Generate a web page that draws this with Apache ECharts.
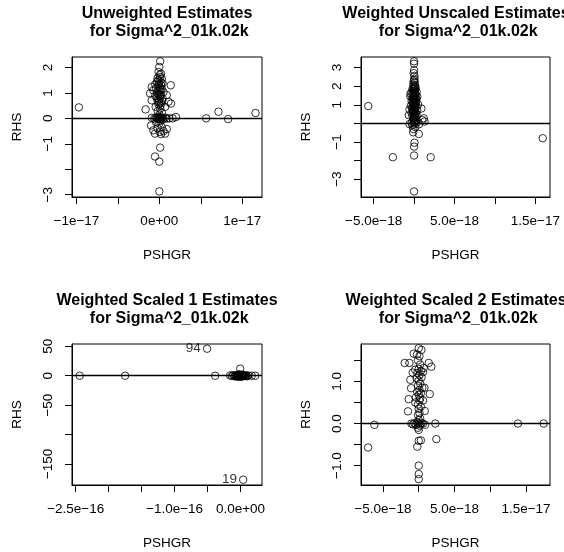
<!DOCTYPE html>
<html>
<head>
<meta charset="utf-8">
<script src="https://cdn.jsdelivr.net/npm/echarts@6/dist/echarts.min.js"></script>
<style>html,body{margin:0;padding:0;background:#fff}#c{width:564px;height:552px}</style>
</head>
<body>
<div id="c"></div>
<script>
// ---------- Panel titles ----------
const titles = [
  "Unweighted Estimates\n for Sigma^2_01k.02k",
  "Weighted Unscaled Estimates\n for Sigma^2_01k.02k",
  "Weighted Scaled 1 Estimates\n for Sigma^2_01k.02k",
  "Weighted Scaled 2 Estimates\n for Sigma^2_01k.02k"
];
const xName = "PSHGR";
const yName = "RHS";

// ---------- Panel 1: Unweighted ----------
const p1X = [-9.7e-18,5.65e-18,7.13e-18,8.3e-18,11.6e-18,
  0.1e-18,0.0,-0.1e-18,0.2e-18,0.1e-18,-0.2e-18,0.3e-18,-0.3e-18,0.0,0.4e-18,
  -0.5e-18,0.2e-18,-0.1e-18,-0.92e-18,1.38e-18,0.1e-18,-0.4e-18,0.3e-18,-0.72e-18,0.0,
  -0.2e-18,0.5e-18,-1.12e-18,-0.1e-18,0.2e-18,0.9e-18,-0.5e-18,0.1e-18,-0.3e-18,0.4e-18,
  0.0,-0.92e-18,-0.2e-18,1.1e-18,1.4e-18,0.2e-18,-0.1e-18,-0.44e-18,0.7e-18,-1.65e-18,
  0.1e-18,-0.2e-18,0.3e-18,0.0,
  -0.9e-18,-0.6e-18,-0.4e-18,-0.2e-18,0.0,0.1e-18,0.2e-18,0.3e-18,0.5e-18,0.7e-18,0.9e-18,1.2e-18,1.6e-18,2.0e-18,-0.1e-18,0.4e-18,
  -1.0e-18,-0.72e-18,-0.52e-18,0.08e-18,0.5e-18,0.7e-18,0.3e-18,-0.2e-18,0.0,-0.4e-18,0.2e-18,0.9e-18,0.1e-18,
  0.1e-18,-0.52e-18,0.0,0.0,
  0.05e-18,-0.15e-18,0.25e-18,-0.05e-18,0.15e-18,-0.25e-18,0.05e-18,0.35e-18,-0.05e-18,0.15e-18,-0.3e-18,0.25e-18,-0.05e-18];
const p1Y = [0.43,0.0,0.26,-0.03,0.21,
  2.24,2.02,1.82,1.75,1.62,1.58,1.55,1.43,1.45,1.37,
  1.33,1.30,1.27,1.23,1.30,1.20,1.18,1.15,1.10,1.08,
  1.05,1.03,0.98,0.95,0.92,0.91,0.88,0.85,0.80,0.78,
  0.74,0.71,0.68,0.65,0.58,0.60,0.55,0.45,0.45,0.35,
  0.38,0.28,0.22,0.15,
  0.02,0.0,0.03,-0.02,0.0,0.04,-0.01,0.02,0.0,0.03,-0.01,0.0,0.0,0.05,0.06,-0.05,
  -0.28,-0.47,-0.6,-0.53,-0.5,-0.6,-0.34,-0.4,-0.2,-0.15,-0.62,-0.42,-0.1,
  -1.15,-1.5,-1.7,-2.87,
  1.7,1.5,1.4,1.35,1.12,0.98,0.9,0.68,0.62,0.5,0.02,0.0,-0.03];
const p1XTicks = [-1e-17,-5e-18,0,5e-18,1e-17];
const p1XLabelVals = [-1e-17,0,1e-17];
const p1XLabels = ["\u22121e\u221217","0e+00","1e\u221217"];
const p1YTicks = [-3,-2,-1,0,1,2];
const p1YLabelVals = [-3,-1,0,1,2];
const p1YLabels = ["\u22123","\u22121","0","1","2"];

// ---------- Panel 2: Weighted Unscaled ----------
const p2X = [-5.66e-18,-2.62e-18,2.05e-18,15.9e-18,0.0,0.0,0.05e-18,0.0,0.58e-18,-0.1e-18,0.9e-18,1.0e-18,1.2e-18,-0.65e-18,-0.57e-18,-0.45e-18,-0.45e-18,
  0.0,0.0,0.0,-0.05e-18,0.05e-18,0.0,0.1e-18,-0.1e-18,0.0,0.2e-18,
  -0.2e-18,0.1e-18,0.3e-18,-0.3e-18,0.0,0.2e-18,-0.1e-18,0.4e-18,0.0,-0.2e-18,
  0.3e-18,0.1e-18,-0.3e-18,0.0,0.2e-18,-0.1e-18,0.5e-18,0.0,-0.4e-18,0.3e-18,
  0.1e-18,-0.2e-18,0.0,0.4e-18,-0.1e-18,0.2e-18,-0.3e-18,0.0,0.3e-18,-0.2e-18,
  0.1e-18,0.0,-0.1e-18,0.2e-18,0.0,-0.57e-18,-0.3e-18,0.0,0.3e-18,0.6e-18,
  1.3e-18,0.15e-18,-0.1e-18,
  0.1e-18,-0.1e-18,0.2e-18,-0.2e-18,0.1e-18,-0.1e-18,0.0,0.1e-18,0.0,-0.1e-18,0.2e-18,0.0,0.1e-18,-0.2e-18,
  0.05e-18,-0.05e-18,0.1e-18,-0.1e-18,0.05e-18,0.15e-18,-0.15e-18,0.05e-18,0.25e-18,-0.05e-18,0.15e-18,-0.25e-18,0.05e-18,-0.15e-18,0.1e-18,-0.05e-18,0.25e-18];
const p2Y = [0.93,-1.82,-1.82,-0.8,-1.73,-1.25,-1.04,-3.66,-0.57,-0.48,0.8,0.18,0.27,0.44,0.75,1.6,1.45,
  3.34,3.21,2.86,2.7,2.55,2.32,2.2,2.1,2.0,1.92,
  1.85,1.78,1.7,1.65,1.6,1.55,1.5,1.45,1.4,1.35,
  1.3,1.25,1.2,1.15,1.1,1.05,1.02,0.98,0.95,0.9,
  0.85,0.8,0.75,0.7,0.65,0.6,0.55,0.5,0.45,0.4,
  0.35,0.3,0.22,0.15,0.1,-0.04,0.02,-0.02,0.03,-0.05,
  0.1,-0.2,-0.3,
  1.95,1.72,1.38,1.12,0.92,0.72,1.85,1.48,1.28,0.88,0.52,0.62,0.05,-0.1,
  2.4,2.25,2.05,1.88,1.75,1.62,1.42,1.33,1.18,1.08,0.97,0.83,0.68,0.58,0.42,0.28,0.2];
const p2XTicks = [-5e-18,0,5e-18,1e-17,1.5e-17];
const p2XLabelVals = [-5e-18,5e-18,1.5e-17];
const p2XLabels = ["\u22125.0e\u221218","5.0e\u221218","1.5e\u221217"];
const p2YTicks = [-3,-2,-1,0,1,2,3];
const p2YLabelVals = [-3,-1,1,2,3];
const p2YLabels = ["\u22123","\u22121","1","2","3"];

// ---------- Panel 3: Weighted Scaled 1 ----------
const p3X = [-2.44e-16,-1.75e-16,-3.85e-17,-5.07e-17,-0.05e-17,0.41e-17,
  -1.57e-17,-1.3e-17,-1.1e-17,-0.9e-17,-0.8e-17,-0.7e-17,-0.6e-17,-0.5e-17,-0.45e-17,-0.4e-17,
  -0.35e-17,-0.3e-17,-0.25e-17,-0.2e-17,-0.15e-17,-0.1e-17,-0.05e-17,0.0,0.05e-17,0.1e-17,
  0.15e-17,0.2e-17,0.25e-17,0.3e-17,0.35e-17,0.4e-17,0.45e-17,0.5e-17,0.6e-17,0.7e-17,
  0.8e-17,0.9e-17,1.0e-17,1.2e-17,1.7e-17,2.24e-17,-0.2e-17,0.1e-17,0.3e-17,-0.5e-17];
const p3Y = [0,0,0,46,12,-177,
  0.5,-0.5,1,-1,0.3,-0.2,0.8,-0.6,0.1,1.5,
  -1.2,0.2,-0.3,0.6,-0.8,0.0,1.2,-0.4,0.3,-1.0,
  0.8,-0.2,0.4,-0.6,1.0,0.1,-0.3,0.5,-0.1,0.7,
  -0.5,0.2,-0.8,0.3,0.0,0.0,2.5,-2.0,1.8,-1.8];
const p3PointLabels = {3:"94", 5:"19"};
const p3XTicks = [-2.5e-16,-2e-16,-1.5e-16,-1e-16,-5e-17,0];
const p3XLabelVals = [-2.5e-16,-1e-16,0];
const p3XLabels = ["\u22122.5e\u221216","\u22121.0e\u221216","0.0e+00"];
const p3YTicks = [-150,-100,-50,0,50];
const p3YLabelVals = [-150,-50,0,50];
const p3YLabels = ["\u2212150","\u221250","0","50"];

// ---------- Panel 4: Weighted Scaled 2 ----------
const p4X = [-7.08e-18,-6.2e-18,2.32e-18,2.46e-18,13.87e-18,17.46e-18,0.0,0.0,0.0,-0.2e-18,0.0,0.3e-18,
  0.0,0.37e-18,-0.24e-18,-0.7e-18,-1.96e-18,-1.3e-18,1.4e-18,1.76e-18,0.7e-18,-0.84e-18,-1.17e-18,-1.07e-18,1.54e-18,-1.4e-18,-0.47e-18,-1.5e-18,0.84e-18,
  0.1e-18,-0.1e-18,0.2e-18,0.0,0.3e-18,-0.2e-18,0.1e-18,0.4e-18,-0.3e-18,0.0,0.2e-18,-0.1e-18,0.5e-18,0.1e-18,-0.2e-18,0.3e-18,0.0,-0.4e-18,0.2e-18,0.1e-18,
  -0.1e-18,0.3e-18,0.0,0.1e-18,-0.1e-18,0.2e-18,0.0,0.1e-18,-0.1e-18,0.0,0.6e-18,-0.5e-18,0.8e-18,0.6e-18,
  -1.03e-18,-0.8e-18,-0.6e-18,-0.4e-18,-0.2e-18,0.0,0.2e-18,0.4e-18,0.6e-18,0.9e-18];
const p4Y = [-0.57,-0.03,0.0,-0.37,0.0,0.0,-1.0,-1.2,-1.32,-0.55,-0.41,-0.4,
  1.79,1.75,1.64,1.66,1.44,1.44,1.44,1.35,1.32,1.21,1.04,0.84,0.70,0.58,0.5,0.29,0.3,
  1.6,1.5,1.4,1.3,1.25,1.2,1.15,1.1,1.08,1.02,0.95,0.9,0.85,0.8,0.75,0.72,0.68,0.62,0.6,0.55,
  0.45,0.4,0.35,0.25,0.2,0.12,0.08,-0.05,-0.1,-0.15,1.22,1.28,0.85,0.55,
  0.0,-0.02,0.01,-0.03,0.02,0.0,-0.02,0.01,0.0,-0.03];
const p4XTicks = [-5e-18,0,5e-18,1e-17,1.5e-17];
const p4XLabelVals = [-5e-18,5e-18,1.5e-17];
const p4XLabels = ["\u22125.0e\u221218","5.0e\u221218","1.5e\u221217"];
const p4YTicks = [-1,-0.5,0,0.5,1,1.5];
const p4YLabelVals = [-1,0,1];
const p4YLabels = ["\u22121.0","0.0","1.0"];

// ---------- Build chart ----------
const FONT = "'Liberation Sans', Arial, Helvetica, sans-serif";
const panels = [
  {grid:{left:72,top:57,width:190,height:140}, xr:[-1.053e-17,1.238e-17], yr:[-3.09,2.41],
   x:p1X, y:p1Y, xt:p1XTicks, xlv:p1XLabelVals, xl:p1XLabels, yt:p1YTicks, ylv:p1YLabelVals, yl:p1YLabels, tx:167, ty:5},
  {grid:{left:361,top:57,width:189,height:140}, xr:[-6.56e-18,1.68e-17], yr:[-3.96,3.57],
   x:p2X, y:p2Y, xt:p2XTicks, xlv:p2XLabelVals, xl:p2XLabels, yt:p2YTicks, ylv:p2YLabelVals, yl:p2YLabels, tx:456, ty:5},
  {grid:{left:72,top:344,width:190,height:141}, xr:[-2.556e-16,3.26e-17], yr:[-186,54],
   x:p3X, y:p3Y, xt:p3XTicks, xlv:p3XLabelVals, xl:p3XLabels, yt:p3YTicks, ylv:p3YLabelVals, yl:p3YLabels, tx:167, ty:292, pl:p3PointLabels},
  {grid:{left:361,top:344,width:189,height:141}, xr:[-8.07e-18,1.835e-17], yr:[-1.46,1.89],
   x:p4X, y:p4Y, xt:p4XTicks, xlv:p4XLabelVals, xl:p4XLabels, yt:p4YTicks, ylv:p4YLabelVals, yl:p4YLabels, tx:456, ty:292}
];

function lookup(vals, texts, span) {
  return function (v) {
    for (let i = 0; i < vals.length; i++) {
      if (Math.abs(v - vals[i]) <= span * 1e-6) return texts[i];
    }
    return "";
  };
}

const option = {
  backgroundColor: "#fff",
  animation: false,
  title: [], grid: [], xAxis: [], yAxis: [], series: []
};

panels.forEach(function (p, i) {
  option.title.push({
    text: titles[i], left: p.tx, top: p.ty, textAlign: "center", padding: 0,
    textStyle: {fontFamily: FONT, fontSize: 16, fontWeight: "bold", lineHeight: 18, color: "#000"}
  });
  option.grid.push(Object.assign({show: true, borderColor: "#000", borderWidth: 1, backgroundColor: "transparent", containLabel: false}, p.grid));
  const common = {
    gridIndex: i, type: "value", nameLocation: "middle",
    nameTextStyle: {fontFamily: FONT, fontSize: 13.5, color: "#000"},
    splitLine: {show: false}
  };
  option.xAxis.push(Object.assign({}, common, {
    min: p.xr[0], max: p.xr[1], name: xName, nameGap: 51,
    axisLine: {show: true, onZero: false, lineStyle: {color: "#000", width: 1}},
    axisTick: {show: true, customValues: p.xt, length: 7, lineStyle: {color: "#000", width: 1}},
    axisLabel: {customValues: p.xlv, formatter: lookup(p.xlv, p.xl, p.xr[1] - p.xr[0]),
      fontFamily: FONT, fontSize: 13.5, color: "#000", margin: 17}
  }));
  option.yAxis.push(Object.assign({}, common, {
    min: p.yr[0], max: p.yr[1], name: yName, nameGap: 48, nameRotate: 90,
    axisLine: {show: true, onZero: false, lineStyle: {color: "#000", width: 1}},
    axisTick: {show: true, customValues: p.yt, length: 7, lineStyle: {color: "#000", width: 1}},
    axisLabel: {customValues: p.ylv, formatter: lookup(p.ylv, p.yl, p.yr[1] - p.yr[0]),
      fontFamily: FONT, fontSize: 13.5, color: "#000", margin: 17, rotate: 90}
  }));
  const data = p.x.map(function (xv, k) {
    const item = {value: [xv, p.y[k]]};
    if (p.pl && p.pl[k]) {
      item.label = {show: true, position: "left", distance: 2, formatter: p.pl[k],
        fontFamily: FONT, fontSize: 13.5, color: "#000"};
    }
    return item;
  });
  option.series.push({
    type: "scatter", xAxisIndex: i, yAxisIndex: i, data: data,
    symbol: "circle", symbolSize: 7.5, silent: true,
    itemStyle: {color: "rgba(0,0,0,0)", borderColor: "#000", borderWidth: 1},
    markLine: {silent: true, symbol: ["none", "none"], label: {show: false},
      lineStyle: {color: "#000", width: 1.3, type: "solid"}, data: [{yAxis: 0}]}
  });
});

const chart = echarts.init(document.getElementById("c"), null, {renderer: "canvas"});
chart.setOption(option);
</script>
</body>
</html>
